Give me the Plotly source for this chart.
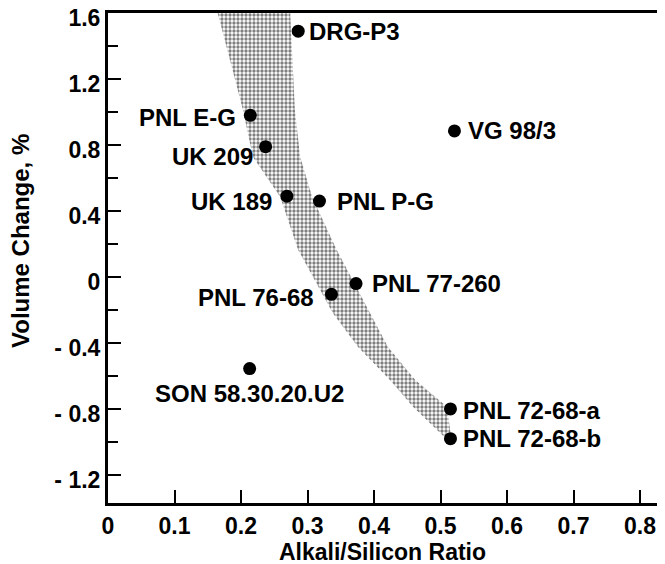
import plotly.graph_objects as go

# sample points
samples = ["DRG-P3", "PNL E-G", "UK 209", "UK 189", "PNL P-G", "VG 98/3",
           "PNL 77-260", "PNL 76-68", "SON 58.30.20.U2", "PNL 72-68-a", "PNL 72-68-b"]
ratio = [0.286, 0.214, 0.237, 0.269, 0.318, 0.521, 0.373, 0.336, 0.213, 0.515, 0.515]
volume_change = [1.49, 0.98, 0.79, 0.49, 0.46, 0.885, -0.04, -0.105, -0.555, -0.80, -0.98]

# shaded band edges
band_left_x = [0.165, 0.203, 0.218, 0.259, 0.286, 0.319, 0.338, 0.376, 0.424, 0.459, 0.499, 0.507]
band_left_y = [1.60, 1.012, 0.727, 0.485, 0.164, -0.079, -0.218, -0.424, -0.624, -0.788, -0.945, -0.975]
band_right_x = [0.274, 0.281, 0.289, 0.307, 0.344, 0.376, 0.394, 0.421, 0.462, 0.510, 0.515]
band_right_y = [1.60, 1.012, 0.727, 0.485, 0.164, -0.079, -0.218, -0.424, -0.624, -0.788, -0.945]

x_ticks = [0, 0.1, 0.2, 0.3, 0.4, 0.5, 0.6, 0.7, 0.8]
x_ticktext = ["0", "0.1", "0.2", "0.3", "0.4", "0.5", "0.6", "0.7", "0.8"]
y_ticks = [1.6, 1.2, 0.8, 0.4, 0, -0.4, -0.8, -1.2]
y_ticktext = ["1.6", "1.2", "0.8", "0.4", "0", "- 0.4", "- 0.8", "- 1.2"]
y_minor = [1.4, 1.0, 0.6, 0.2, -0.2, -0.6, -1.0]

# label placement: (anchor, xshift, yshift) in pixels
label_pos = [
    ("left", 9, 0), ("right", -12, -2), ("right", -11, -10), ("right", -13, -5),
    ("left", 16, 0), ("left", 12, 0), ("left", 14, 0), ("right", -15, -3),
    ("center", 0, -25), ("left", 11, -2), ("left", 11, 0),
]

FONT = "Liberation Sans, Arial, sans-serif"

band_x = band_left_x + band_right_x[::-1]
band_y = band_left_y + band_right_y[::-1]

fig = go.Figure()

fig.add_trace(go.Scatter(
    x=band_x,
    y=band_y,
    mode="lines",
    fill="toself",
    line=dict(width=0),
    fillcolor="white",
    fillpattern=dict(shape=".", fgcolor="black", bgcolor="white", size=4, solidity=0.55),
    hoverinfo="skip",
    showlegend=False
))

fig.add_trace(go.Scatter(
    x=ratio,
    y=volume_change,
    mode="markers",
    marker=dict(color="black", size=13),
    text=samples,
    showlegend=False
))

for name, xv, yv, (anchor, dx, dy) in zip(samples, ratio, volume_change, label_pos):
    fig.add_annotation(
        x=xv, y=yv, text="<b>" + name + "</b>",
        showarrow=False, xanchor=anchor, yanchor="middle",
        xshift=dx, yshift=dy,
        font=dict(family=FONT, size=24, color="black")
    )

fig.add_annotation(
    xref="paper", yref="paper", x=0.492, y=-0.1,
    text="<b>Alkali/Silicon Ratio</b>", showarrow=False,
    xanchor="center", yanchor="middle",
    font=dict(family=FONT, size=23, color="black")
)
fig.add_annotation(
    xref="paper", yref="paper", x=-0.156, y=0.535,
    text="<b>Volume Change, %</b>", showarrow=False, textangle=-90,
    xanchor="center", yanchor="middle",
    font=dict(family=FONT, size=24, color="black")
)

# page body adds an 8px offset, so the figure is 8px smaller than the window
fig.update_layout(
    width=657,
    height=556,
    margin=dict(l=100, r=0, t=5, b=61),
    plot_bgcolor="white",
    paper_bgcolor="white",
    font=dict(family=FONT, size=23, color="black"),
    xaxis=dict(
        range=[0, 0.8376],
        tickvals=x_ticks,
        ticktext=["<b>" + t + "</b>" for t in x_ticktext],
        ticks="inside",
        ticklen=13,
        tickwidth=2,
        tickcolor="black",
        showline=True,
        linewidth=3,
        linecolor="black",
        mirror=True,
        showgrid=False,
        zeroline=False,
        automargin=False,
        ticklabeloverflow="allow"
    ),
    yaxis=dict(
        range=[-1.37, 1.6],
        tickvals=y_ticks,
        ticktext=["<b>" + t + "</b>" for t in y_ticktext],
        ticks="inside",
        ticklen=13,
        tickwidth=2,
        tickcolor="black",
        ticklabelshift=5,
        minor=dict(tickvals=y_minor, ticks="inside", ticklen=10, tickwidth=2, tickcolor="black"),
        showline=True,
        linewidth=3,
        linecolor="black",
        showgrid=False,
        zeroline=False,
        automargin=False,
        ticklabeloverflow="allow"
    )
)

fig.write_html("out.html")
